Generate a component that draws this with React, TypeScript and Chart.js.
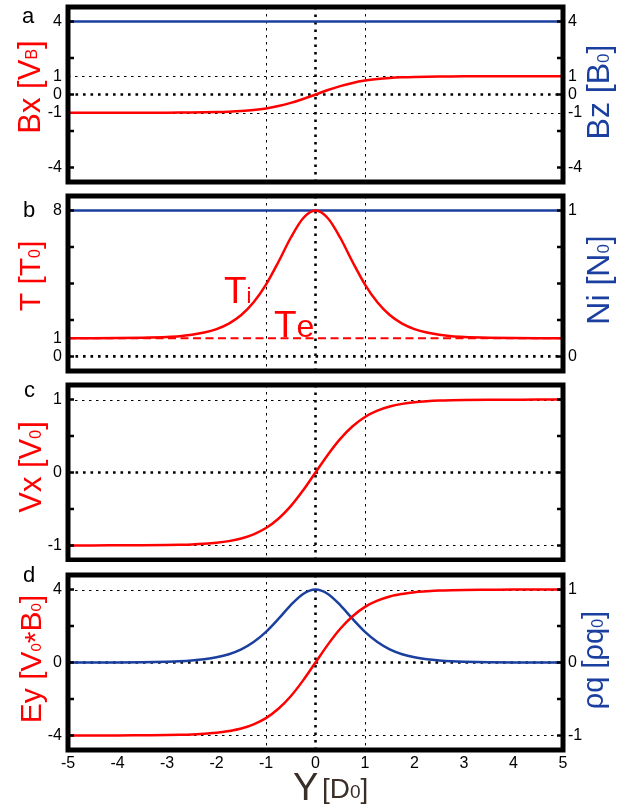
import React, { useEffect, useRef } from 'react';
import { Chart, registerables } from 'chart.js';

Chart.register(...registerables);

// ---------- data ----------
const yPositions = [-5, -4.5, -4, -3.5, -3, -2.75, -2.5, -2.25, -2, -1.75, -1.5, -1.25, -1, -0.75, -0.5, -0.25, 0,
  0.25, 0.5, 0.75, 1, 1.25, 1.5, 1.75, 2, 2.25, 2.5, 2.75, 3, 3.5, 4, 4.5, 5];

const bxValues = [-1.0, -1.0, -0.999, -0.998, -0.995, -0.992, -0.987, -0.978, -0.964, -0.941, -0.905, -0.848, -0.762, -0.635, -0.462, -0.245, 0,
  0.245, 0.462, 0.635, 0.762, 0.848, 0.905, 0.941, 0.964, 0.978, 0.987, 0.992, 0.995, 0.998, 0.999, 1.0, 1.0];
const edgePositions = [-5, 5];
const bzValues = [4, 4];

const tiValues = [1.0, 1.0, 1.01, 1.03, 1.07, 1.11, 1.19, 1.31, 1.5, 1.8, 2.27, 2.97, 3.94, 5.18, 6.51, 7.58, 8.0,
  7.58, 6.51, 5.18, 3.94, 2.97, 2.27, 1.8, 1.5, 1.31, 1.19, 1.11, 1.07, 1.03, 1.01, 1.0, 1.0];
const teValues = [1, 1];
const niValues = [1, 1];

const vxValues = [-1.0, -1.0, -0.999, -0.998, -0.995, -0.992, -0.987, -0.978, -0.964, -0.941, -0.905, -0.848, -0.762, -0.635, -0.462, -0.245, 0,
  0.245, 0.462, 0.635, 0.762, 0.848, 0.905, 0.941, 0.964, 0.978, 0.987, 0.992, 0.995, 0.998, 0.999, 1.0, 1.0];

const eyValues = [-4.0, -4.0, -4.0, -3.99, -3.98, -3.97, -3.95, -3.91, -3.86, -3.76, -3.62, -3.39, -3.05, -2.54, -1.85, -0.98, 0,
  0.98, 1.85, 2.54, 3.05, 3.39, 3.62, 3.76, 3.86, 3.91, 3.95, 3.97, 3.98, 3.99, 4.0, 4.0, 4.0];
const rhoValues = [0.0, 0.0, 0.001, 0.004, 0.01, 0.016, 0.027, 0.044, 0.071, 0.114, 0.181, 0.281, 0.42, 0.597, 0.787, 0.94, 1.0,
  0.94, 0.787, 0.597, 0.42, 0.281, 0.181, 0.114, 0.071, 0.044, 0.027, 0.016, 0.01, 0.004, 0.001, 0.0, 0.0];

// tick labels
const aLeftTicks = [4, 1, 0, -1, -4];
const aRightTicks = [4, 1, 0, -1, -4];
const bLeftTicks = [8, 1, 0];
const bRightTicks = [1, 0];
const cLeftTicks = [1, 0, -1];
const cRightTicks: number[] = [];
const dLeftTicks = [4, 0, -4];
const dRightTicks = [1, 0, -1];

// grid / tick mark values
const vGridValues = [-1, 0, 1];
const aGridValues = [1, 0, -1];
const bGridValues = [0];
const cGridValues = [1, 0, -1];
const dGridValues = [4, 0, -4];
const aMarks = [-4, -2, 0, 2, 4];
const bMarks = [0, 2, 4, 6, 8];
const cMarks = [-1, -0.5, 0, 0.5, 1];
const dMarks = [-4, -2, 0, 2, 4];

// ---------- styles ----------
const RED = '#ff0000';
const BLUE = '#1a3f9e';
const FONT = "'Liberation Sans', Arial, sans-serif";

type Part = { t: string; s: number; rise?: number };
type TextItem = { parts: Part[]; x: number; y: number; color: string; rotate?: boolean; center?: boolean };

const pts = (xs: number[], ys: number[]) => xs.map((x, i) => ({ x, y: ys[i] }));

const line = (xs: number[], ys: number[], color: string, axis: string, extra: any = {}) => ({
  data: pts(xs, ys),
  borderColor: color,
  borderWidth: 2.5,
  pointRadius: 0,
  fill: false,
  cubicInterpolationMode: 'monotone',
  yAxisID: axis,
  ...extra,
});

const sub = (t: string, s: number, rise = 0): Part => ({ t, s, rise });

const panels = [
  {
    top: 0, h: 190, areaTop: 7, showX: false,
    yMin: -4.8, yMax: 4.8, rMin: -4.8, rMax: 4.8,
    leftTicks: aLeftTicks, rightTicks: aRightTicks, grid: aGridValues, marks: aMarks,
    datasets: [
      line(yPositions, bxValues, RED, 'y'),
      line(edgePositions, bzValues, BLUE, 'yR', { borderWidth: 2.5 }),
    ],
    texts: [
      { parts: [sub('a', 22)], x: 22, y: 23, color: '#000' },
      { parts: [sub('Bx [V', 31), sub('B', 16, 3), sub(']', 31)], x: 40, y: 87, color: RED, rotate: true, center: true },
      { parts: [sub('Bz [B', 32), sub('0', 17), sub(']', 32)], x: 609, y: 92, color: BLUE, rotate: true, center: true },
    ] as TextItem[],
  },
  {
    top: 189, h: 190, areaTop: 7, showX: false,
    yMin: -0.8, yMax: 8.8, rMin: -0.1, rMax: 1.1,
    leftTicks: bLeftTicks, rightTicks: bRightTicks, grid: bGridValues, marks: bMarks,
    datasets: [
      line(edgePositions, teValues, RED, 'y', { borderWidth: 2, borderDash: [8, 4.5] }),
      line(yPositions, tiValues, RED, 'y'),
      line(edgePositions, niValues, BLUE, 'yR', { borderWidth: 2.5 }),
    ],
    texts: [
      { parts: [sub('b', 22)], x: 23, y: 217, color: '#000' },
      { parts: [sub('T [T', 30), sub('0', 16), sub(']', 30)], x: 40, y: 276, color: RED, rotate: true, center: true },
      { parts: [sub('Ni [N', 32), sub('0', 17), sub(']', 32)], x: 609, y: 280, color: BLUE, rotate: true, center: true },
      { parts: [sub('T', 37), sub('i', 22)], x: 224, y: 303, color: RED },
      { parts: [sub('T', 37), sub('e', 32)], x: 274, y: 337, color: RED },
    ] as TextItem[],
  },
  {
    top: 378, h: 184, areaTop: 7, showX: false,
    yMin: -1.2, yMax: 1.2, rMin: -1.2, rMax: 1.2,
    leftTicks: cLeftTicks, rightTicks: cRightTicks, grid: cGridValues, marks: cMarks,
    datasets: [line(yPositions, vxValues, RED, 'y')],
    texts: [
      { parts: [sub('c', 22)], x: 24, y: 397, color: '#000' },
      { parts: [sub('Vx [V', 31), sub('0', 16), sub(']', 31)], x: 41, y: 467, color: RED, rotate: true, center: true },
    ] as TextItem[],
  },
  {
    top: 563, h: 243, areaTop: 12, showX: true,
    yMin: -4.8, yMax: 4.8, rMin: -1.2, rMax: 1.2,
    leftTicks: dLeftTicks, rightTicks: dRightTicks, grid: dGridValues, marks: dMarks,
    datasets: [
      line(yPositions, eyValues, RED, 'y'),
      line(yPositions, rhoValues, BLUE, 'yR'),
    ],
    texts: [
      { parts: [sub('d', 22)], x: 23, y: 582, color: '#000' },
      { parts: [sub('Ey [V', 30), sub('0', 15), sub('*', 30, -4), sub('B', 30), sub('0', 15), sub(']', 30)], x: 41, y: 659, color: RED, rotate: true, center: true },
      { parts: [sub('\u03c1q [\u03c1q', 29), sub('0', 16), sub(']', 29)], x: 603, y: 660, color: BLUE, rotate: true, center: true },
      { parts: [sub('Y', 38)], x: 293, y: 800, color: '#3a2e28' },
      { parts: [sub('[D', 28), sub('0', 19), sub(']', 28)], x: 322, y: 798, color: '#3a2e28' },
    ] as TextItem[],
  },
];

function drawParts(ctx: CanvasRenderingContext2D, item: TextItem, offsetY: number) {
  ctx.save();
  ctx.translate(item.x, item.y - offsetY);
  if (item.rotate) ctx.rotate(-Math.PI / 2);
  ctx.textBaseline = 'alphabetic';
  ctx.textAlign = 'left';
  ctx.fillStyle = item.color;
  let total = 0;
  for (const p of item.parts) {
    ctx.font = `${p.s}px ${FONT}`;
    total += ctx.measureText(p.t).width;
  }
  let cx = item.center ? -total / 2 : 0;
  for (const p of item.parts) {
    ctx.font = `${p.s}px ${FONT}`;
    ctx.fillText(p.t, cx, -(p.rise || 0));
    cx += ctx.measureText(p.t).width;
  }
  ctx.restore();
}

function makeDecor(panel: any) {
  return {
    id: 'decor',
    beforeDatasetsDraw(chart: any) {
      const { ctx, chartArea: a, scales } = chart;
      const xs = scales.x;
      const ys = scales.y;
      ctx.save();
      ctx.beginPath();
      ctx.rect(a.left, a.top, a.right - a.left, a.bottom - a.top);
      ctx.clip();
      const style = (bold: boolean) => {
        ctx.strokeStyle = '#000';
        ctx.lineWidth = bold ? 2.6 : 1;
        ctx.setLineDash(bold ? [2.6, 4.9] : [2.5, 4.5]);
      };
      const snap = (p: number, bold: boolean) => (bold ? p : Math.round(p) + 0.5);
      for (const v of panel.grid) {
        const bold = v === 0;
        const py = snap(ys.getPixelForValue(v), bold);
        style(bold);
        ctx.beginPath();
        ctx.moveTo(a.left, py);
        ctx.lineTo(a.right, py);
        ctx.stroke();
      }
      for (const v of vGridValues) {
        const bold = v === 0;
        const px = snap(xs.getPixelForValue(v), bold);
        style(bold);
        ctx.beginPath();
        ctx.moveTo(px, a.top);
        ctx.lineTo(px, a.bottom);
        ctx.stroke();
      }
      ctx.restore();
    },
    afterDatasetsDraw(chart: any) {
      const { ctx, chartArea: a, scales } = chart;
      const ys = scales.y;
      ctx.save();
      ctx.setLineDash([]);
      ctx.strokeStyle = '#000';
      ctx.lineWidth = 2.5;
      for (const v of panel.marks) {
        const py = ys.getPixelForValue(v);
        ctx.beginPath();
        ctx.moveTo(a.left, py);
        ctx.lineTo(a.left + 6, py);
        ctx.moveTo(a.right, py);
        ctx.lineTo(a.right - 6, py);
        ctx.stroke();
      }
      ctx.lineWidth = 5;
      ctx.lineJoin = 'miter';
      ctx.strokeRect(a.left, a.top, a.right - a.left, a.bottom - a.top);
      ctx.restore();
      for (const t of panel.texts) drawParts(ctx, t, panel.top);
    },
  };
}

const zeroPad = (s: any) => {
  s.paddingTop = 0;
  s.paddingBottom = 0;
  s.paddingLeft = 0;
  s.paddingRight = 0;
};

function buildConfig(panel: any): any {
  const areaTop = panel.areaTop;
  const areaH = 175;
  const below = panel.h - areaTop - areaH;
  const tickFont = { size: 16, family: FONT };
  return {
    type: 'line',
    data: { datasets: panel.datasets },
    plugins: [makeDecor(panel)],
    options: {
      animation: false,
      responsive: false,
      devicePixelRatio: 1,
      events: [],
      layout: { padding: { top: areaTop, bottom: 0, left: 0, right: 0 } },
      plugins: { legend: { display: false }, tooltip: { enabled: false } },
      scales: {
        x: {
          type: 'linear', min: -5, max: 5, position: 'bottom', display: panel.showX,
          grid: { display: false, drawTicks: false }, border: { display: false },
          ticks: { stepSize: 1, autoSkip: false, maxRotation: 0, padding: 4, color: '#000', font: tickFont,
            callback: (v: any) => String(v) },
          afterFit: (s: any) => { s.height = below; zeroPad(s); },
        },
        y: {
          type: 'linear', position: 'left', min: panel.yMin, max: panel.yMax,
          grid: { display: false, drawTicks: false }, border: { display: false },
          afterBuildTicks: (s: any) => { s.ticks = panel.leftTicks.map((v: number) => ({ value: v })); },
          ticks: { padding: 6, color: '#000', font: tickFont, callback: (v: any) => String(v) },
          afterFit: (s: any) => { s.width = 68; zeroPad(s); },
        },
        yR: {
          type: 'linear', position: 'right', min: panel.rMin, max: panel.rMax,
          grid: { display: false, drawTicks: false }, border: { display: false },
          afterBuildTicks: (s: any) => {
            if (panel.rightTicks.length) s.ticks = panel.rightTicks.map((v: number) => ({ value: v }));
          },
          ticks: { display: panel.rightTicks.length > 0, padding: 5, color: '#000', font: tickFont,
            callback: (v: any) => String(v) },
          afterFit: (s: any) => { s.width = 55; zeroPad(s); },
        },
      },
    },
  };
}

export default function App() {
  const canvases = useRef<(HTMLCanvasElement | null)[]>([]);
  useEffect(() => {
    const charts = panels.map((p, i) => new Chart(canvases.current[i] as HTMLCanvasElement, buildConfig(p)));
    return () => charts.forEach((c) => c.destroy());
  }, []);
  return (
    <div style={{ position: 'absolute', left: 0, top: 0, width: 618, height: 806, background: '#fff', overflow: 'hidden' }}>
      {panels.map((p, i) => (
        <canvas
          key={i}
          ref={(el) => { canvases.current[i] = el; }}
          width={618}
          height={p.h}
          style={{ position: 'absolute', left: 0, top: p.top, width: 618, height: p.h }}
        />
      ))}
    </div>
  );
}
